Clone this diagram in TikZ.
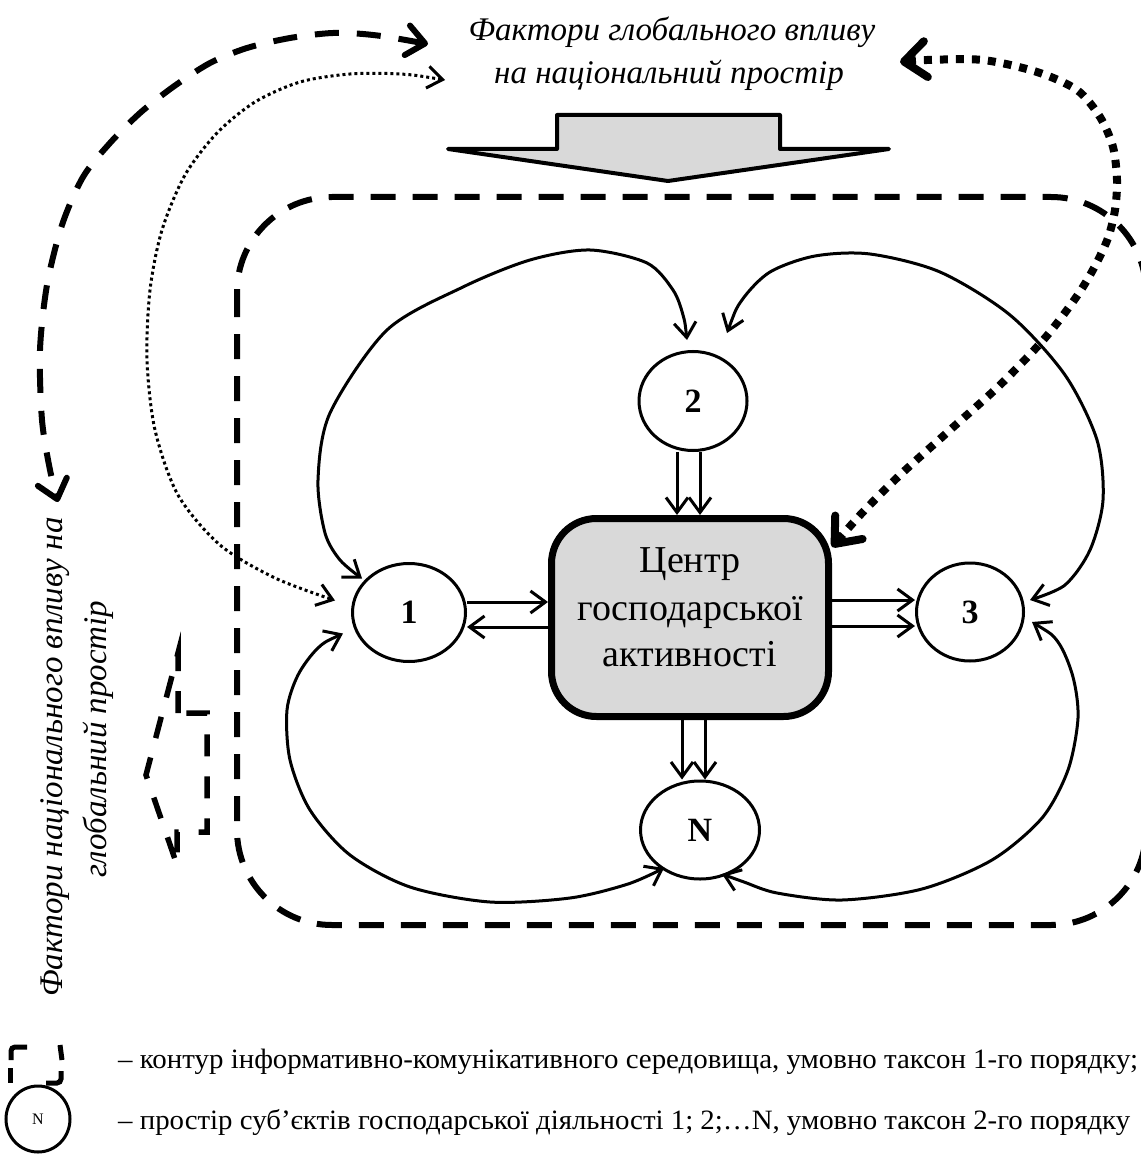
\documentclass[tikz,border=0pt]{standalone}
\usepackage{fontspec}
\setmainfont{Liberation Serif}
\usepackage{graphicx}
\usetikzlibrary{arrows.meta,shapes.geometric,calc}
\definecolor{boxgray}{HTML}{D9D9D9}
\tikzset{
  barb/.tip={Straight Barb[length=15pt,width=22pt]},
  bdash/.tip={Straight Barb[length=18pt,width=30pt,round]},
  bdot/.tip={Straight Barb[length=22pt,width=36pt,round]},
  conn/.style={line width=3pt,-barb},
  twoway/.style={line width=3pt,barb-barb},
  contour/.style={line width=6pt,dash pattern=on 25pt off 17pt},
  bigdash/.style={line width=6pt,dash pattern=on 24pt off 18pt,bdash-bdash},
  bigdot/.style={line width=8pt,dash pattern=on 8pt off 8pt,bdot-bdot},
  smalldot/.style={line width=3pt,dash pattern=on 3pt off 3pt,barb-barb},
  ell/.style={draw,ellipse,line width=3pt,fill=white,inner sep=0pt,font=\fontsize{34pt}{40pt}\selectfont\bfseries},
  ital/.style={font=\fontsize{33pt}{40pt}\selectfont\itshape},
  boxtext/.style={font=\fontsize{38pt}{44pt}\selectfont,anchor=base},
  legtext/.style={anchor=west,inner sep=0pt,font=\fontsize{28pt}{32pt}\selectfont},
}
\begin{document}
\begin{tikzpicture}[x=1pt,y=-1pt]
\fill[white] (0,0) rectangle (1140,1155);
\useasboundingbox (0,0) rectangle (1140,1155);

% information-communication contour
\draw[contour,rounded corners=95pt] (237,197) rectangle (1146,925);

% global influence arrow
\draw[line width=4pt,fill=boxgray,line join=round] (448,149) -- (557,149) -- (557,115) -- (780,115) -- (780,149) -- (889,149) -- (668,181) -- cycle;

% national influence dashed arrow
\draw[line width=5.5pt,dash pattern=on 22pt off 20pt] (178,713) -- (178,653) -- (146,775) -- (177,865) -- (177,832) -- (207,832) -- (207,713) -- cycle;

% texts
\node[ital,anchor=base] (glob1) at (672,41) {Фактори глобального впливу};
\node[ital,anchor=base] (glob2) at (669,84) {на національний простір};
\node[ital,rotate=90] (nat1) at (55,757) {Фактори національного впливу на};
\node[ital,rotate=90] (nat2) at (98,739) {глобальний простір};

% centre
\node[draw,line width=7pt,fill=boxgray,rounded corners=45pt,minimum width=277pt,minimum height=198pt,inner sep=0pt] (bx) at (690,617.5) {};
\node[boxtext] (t1) at (690,572) {Центр};
\node[boxtext] (t2) at (690,620) {господарської};
\node[boxtext] (t3) at (690,666) {активності};

% subjects
\node[ell,minimum width=108pt,minimum height=99pt] (n2) at (693,401) {2};
\node[ell,minimum width=113pt,minimum height=98pt] (n1) at (409,612.5) {1};
\node[ell,minimum width=107pt,minimum height=98pt] (n3) at (970,612) {3};
\node[ell,minimum width=119pt,minimum height=98pt] (nN) at (700,830) {N};

% straight double arrows
\draw[conn] (n2.south -| 677,0) -- (bx.north -| 677,0);
\draw[conn] (n2.south -| 700,0) -- (bx.north -| 700,0);
\draw[conn] (bx.south -| 682,0) -- (nN.north -| 682,0);
\draw[conn] (bx.south -| 705,0) -- (nN.north -| 705,0);
\draw[conn] (n1.east |- 0,602) -- (bx.west |- 0,602);
\draw[conn] (bx.west |- 0,627) -- (n1.east |- 0,627);
\draw[conn] (bx.east |- 0,600) -- (n3.west |- 0,600);
\draw[conn] (bx.east |- 0,626) -- (n3.west |- 0,626);

% curved links between subjects
\draw[twoway] plot[smooth] coordinates {($(n2)+(-6,-61)$) (683,315) (673,290) (647,263) (590,250) (530,260) (463,287) (387,330) (330,413) (318,480) (325,533) (340,560) ($(n1)+(-47,-34)$)};
\draw[twoway] plot[smooth] coordinates {($(n2)+(34,-68)$) (742,300) (770,272) (815,256) (870,254) (940,272) (1010,315) (1065,375) (1097,440) (1103,500) (1090,550) (1065,585) ($(n3)+(60,-12)$)};
\draw[twoway] plot[smooth] coordinates {($(n3)+(62,10)$) (1058,642) (1073,677) (1078,718) (1068,770) (1042,818) (992,860) (922,889) (842,900) (777,893) (744,882) ($(nN)+(22,44)$)};
\draw[twoway] plot[smooth] coordinates {($(n1)+(-66,21)$) (318,648) (298,675) (287,710) (290,760) (310,810) (350,855) (410,887) (490,902) (570,898) (628,884) ($(nN)+(-36,38)$)};

% global / national influence links
\coordinate (gA) at (428,44);
\coordinate (gB) at (445,80);
\coordinate (gC) at (900,62);
\coordinate (nA) at (58,502);
\draw[bigdash] plot[smooth] coordinates {(gA) (373,35) (333,33) (290,38) (247,48) (210,63) (173,87) (140,113) (110,143) (83,177) (62,225) (47,285) (40,350) (42,420) (50,470) (nA)};
\draw[smalldot] plot[smooth] coordinates {(gB) (400,74) (350,74) (300,82) (255,102) (217,133) (185,175) (162,230) (150,290) (147,360) (155,430) (178,495) (220,545) (275,578) ($(n1)+(-74,-12)$)};
\draw[bigdot] plot[smooth] coordinates {(gC) (927,60) (983,60) (1037,72) (1077,90) (1100,117) (1113,147) (1117,180) (1115,210) (1108,238) (1095,266) (1077,296) (1045,338) (1000,385) (950,430) (900,475) (862,513) ($(bx.north east)+(0,32)$)};

% legend
\draw[line width=5pt,rounded corners=4pt] (11,1060) -- (11,1047) -- (27,1047);
\draw[line width=5pt] (60,1045) -- (62,1060);
\draw[line width=5pt] (10,1068) -- (10,1083);
\draw[line width=5pt,rounded corners=4pt] (46,1083) -- (61,1083) -- (61,1071);
\node[legtext] (leg1) at (118,1062) {\resizebox{1020pt}{\height}{– контур інформативно-комунікативного середовища, умовно таксон 1-го порядку;}};
\node[draw,ellipse,line width=3pt,minimum width=64pt,minimum height=66pt,inner sep=0pt,font=\fontsize{16pt}{18pt}\selectfont] (legc) at (38,1119) {N};
\node[legtext] (leg2) at (118,1122) {\resizebox{1012pt}{\height}{– простір суб’єктів господарської діяльності 1; 2;…N, умовно таксон 2-го порядку}};
\end{tikzpicture}
\end{document}
